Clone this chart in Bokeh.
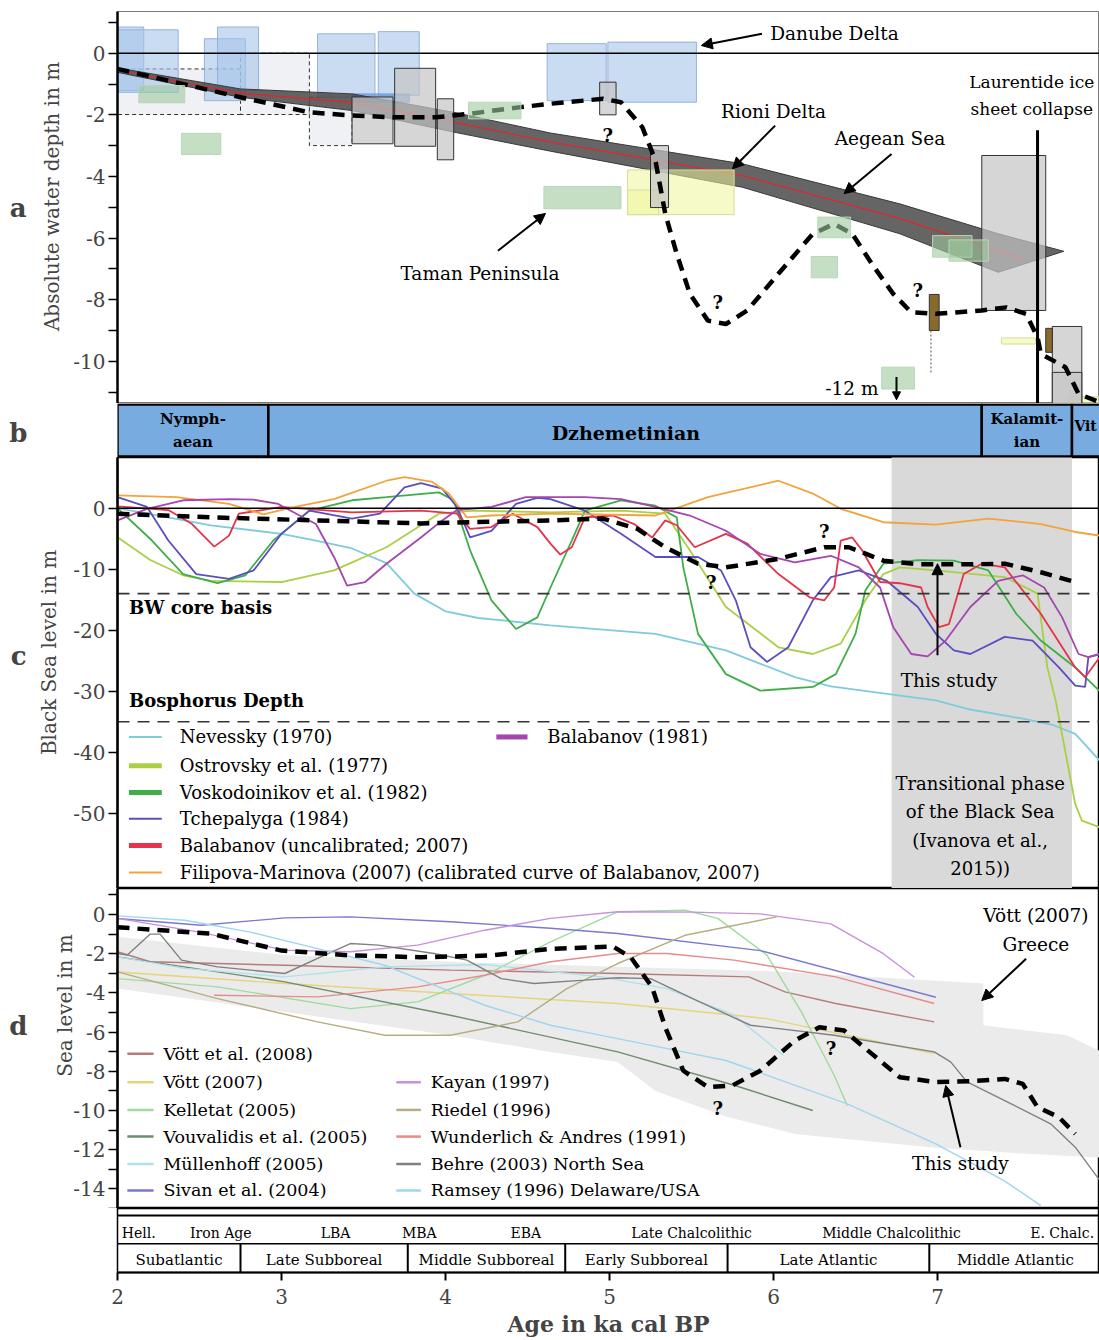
from bokeh.plotting import figure
from bokeh.layouts import column
from bokeh.models import Range1d, Label, Arrow, NormalHead, FixedTicker, LinearAxis
from bokeh.embed import file_html
from bokeh.resources import INLINE
from bokeh.core.properties import value

SERIF = "DejaVu Serif"
W = 1099
LEFT = 117
X0 = 2.0
X1 = 2.0 + (W - LEFT) / 164.0

# ---------------- panel a: absolute water depth (m) ----------------
study_a_age = [2.0, 2.75, 3.17, 3.43, 3.68, 3.94, 4.14, 4.46, 4.64, 4.96, 5.07, 5.20, 5.28, 5.34,
               5.41, 5.49, 5.60, 5.71, 5.84, 6.03, 6.24, 6.37, 6.48, 6.60, 6.73, 6.84, 6.99, 7.27,
               7.42, 7.54, 7.61, 7.63, 7.78, 7.86, 7.99]
study_a_depth = [-0.51, -1.43, -1.92, -2.02, -2.08, -2.08, -1.97, -1.75, -1.64, -1.48, -1.59, -2.40,
                 -3.48, -5.21, -6.51, -7.81, -8.68, -8.79, -8.35, -7.16, -5.86, -5.54, -5.86, -6.84,
                 -7.81, -8.41, -8.46, -8.35, -8.25, -8.46, -9.22, -9.76, -10.19, -11.06, -11.33]

band_top_age = [2.0, 2.75, 3.43, 4.05, 4.64, 5.81, 6.77, 7.37, 7.77]
band_top_depth = [-0.48, -1.16, -1.32, -1.92, -2.59, -3.59, -4.89, -5.86, -6.43]
band_bot_age = [2.0, 2.75, 3.43, 4.05, 4.64, 5.81, 6.77, 7.37]
band_bot_depth = [-0.62, -1.43, -1.86, -2.56, -3.18, -4.35, -5.86, -7.11]
aegean_age = [2.0, 2.75, 3.43, 4.05, 4.64, 5.81, 6.77, 7.52]
aegean_depth = [-0.55, -1.30, -1.60, -2.24, -2.88, -3.97, -5.37, -6.68]

danube_l = [2.0, 2.0, 2.53, 2.61, 3.22, 3.59, 4.62, 4.99]
danube_r = [2.16, 2.37, 2.78, 2.86, 3.57, 3.84, 4.98, 5.53]
danube_t = [0.85, 0.76, 0.47, 0.85, 0.63, 0.70, 0.31, 0.36]
danube_b = [-1.21, -1.27, -1.54, -1.21, -1.43, -1.37, -1.54, -1.59]
danube2_l, danube2_r, danube2_t, danube2_b = [3.43], [3.78], [-1.32], [-1.59]

pale_l = [2.0, 2.75, 3.17]
pale_r = [2.75, 3.17, 3.43]
pale_t = [-0.51, 0.0, -1.43]
pale_b = [-1.99, -1.99, -3.0]

grey_l = [3.43, 3.69, 3.95, 4.94, 5.25, 7.27, 7.70, 7.70]
grey_r = [3.68, 3.94, 4.05, 5.04, 5.36, 7.66, 7.88, 7.88]
grey_t = [-1.42, -0.49, -1.48, -0.94, -3.0, -3.32, -8.87, -10.36]
grey_b = [-2.94, -3.02, -3.46, -2.0, -5.01, -8.35, -11.4, -11.4]

green_l = [2.13, 2.39, 4.14, 4.60, 6.27, 6.23, 6.97, 7.07, 6.66]
green_r = [2.41, 2.63, 4.46, 5.07, 6.47, 6.39, 7.21, 7.31, 6.86]
green_t = [-1.05, -2.60, -1.59, -4.33, -5.32, -6.60, -5.92, -6.06, -10.19]
green_b = [-1.61, -3.29, -2.13, -5.05, -5.99, -7.29, -6.62, -6.75, -10.90]

yellow_l = [5.11, 5.11, 7.39, 7.80]
yellow_r = [5.76, 5.30, 7.60, 8.10]
yellow_t = [-3.79, -4.44, -9.24, -11.15]
yellow_b = [-5.24, -5.24, -9.44, -11.45]

brown_l = [6.95, 7.66]
brown_r = [7.01, 7.70]
brown_t = [-7.83, -8.93]
brown_b = [-9.0, -9.71]

laurentide_age = 7.61
question_a_age = [4.99, 5.66, 6.88]
question_a_depth = [-2.67, -8.08, -7.70]
depth_ticks = [-10, -8, -6, -4, -2, 0]
depth_minor = [-11, -9, -7, -5, -3, -1, 1]

# ---------------- panel b: Black Sea stages ----------------
stage_start = [2.0, 2.92, 7.27, 7.82]
stage_end = [2.92, 7.27, 7.82, 8.30]

# ---------------- panel c: Black Sea level (m) ----------------
nevessky_age = [2.0, 2.25, 2.57, 3.0, 3.21, 3.43, 3.64, 3.81, 4.0, 4.2, 4.64, 5.28, 5.71, 6.13,
                6.35, 6.99, 7.20, 7.52, 7.70, 7.84, 7.99]
nevessky_lvl = [0.0, -1.2, -2.8, -4.2, -5.3, -6.6, -9.0, -14.0, -16.9, -18.0, -19.2, -20.6, -23.3,
                -27.7, -29.2, -31.5, -33.0, -34.5, -35.5, -37.0, -41.4]
ostrovsky_age = [2.0, 2.2, 2.4, 2.57, 3.0, 3.32, 3.64, 3.96, 4.17, 4.64, 5.07, 5.34, 5.49, 5.71,
                 6.03, 6.24, 6.41, 6.56, 6.67, 6.77, 6.99, 7.41, 7.61, 7.67, 7.72, 7.74, 7.84, 7.88, 7.99]
ostrovsky_lvl = [-4.75, -8.5, -11.0, -11.9, -12.1, -10.2, -6.4, -0.9, -0.4, -0.7, -0.4, -0.9, -6.9,
                 -16.2, -22.8, -23.9, -22.2, -15.1, -10.8, -9.7, -10.2, -11.3, -14.0, -26.1, -31.5,
                 -34.3, -48.5, -51.2, -52.3]
vosko_age = [2.0, 2.21, 2.40, 2.61, 2.78, 2.95, 3.17, 3.43, 3.64, 3.96, 4.05, 4.15, 4.28, 4.43,
             4.56, 4.64, 4.77, 4.85, 5.07, 5.28, 5.41, 5.45, 5.54, 5.71, 5.92, 6.24, 6.38, 6.50,
             6.56, 6.67, 6.88, 7.10, 7.31, 7.48, 7.63, 7.84, 7.99]
vosko_lvl = [0.0, -5.3, -10.8, -12.3, -11.0, -5.3, -0.4, 1.3, 1.8, 2.6, 1.3, -6.9, -15.1, -19.8,
             -17.9, -13.0, -5.3, -0.4, 1.3, 0.4, -1.5, -9.7, -20.6, -27.2, -29.9, -29.3, -27.2,
             -20.6, -13.5, -9.1, -8.5, -8.6, -10.2, -17.3, -21.7, -26.1, -30.0]
tchep_age = [2.0, 2.18, 2.31, 2.48, 2.68, 2.83, 3.0, 3.17, 3.43, 3.60, 3.75, 3.85, 3.98, 4.07,
             4.15, 4.28, 4.43, 4.56, 4.64, 4.85, 5.07, 5.28, 5.54, 5.68, 5.77, 5.86, 5.96, 6.09,
             6.24, 6.35, 6.52, 6.69, 6.88, 6.99, 7.10, 7.20, 7.41, 7.58, 7.74, 7.84, 7.90, 7.92, 7.99]
tchep_lvl = [1.8, 0.2, -5.3, -10.8, -11.6, -10.2, -4.2, -0.4, -1.7, -0.9, 3.4, 4.1, 3.2, 0.2,
             -4.8, -3.7, 0.7, 1.7, 1.5, -0.4, -4.2, -8.0, -8.0, -10.2, -15.1, -22.8, -25.2, -22.8,
             -15.1, -11.3, -10.2, -11.9, -16.2, -20.6, -23.3, -23.9, -21.1, -21.7, -26.1, -29.1,
             -29.3, -24.4, -23.9]
bal07_age = [2.0, 2.31, 2.45, 2.59, 2.68, 2.74, 3.0, 3.43, 3.85, 4.07, 4.15, 4.28, 4.41, 4.56,
             4.64, 4.70, 4.77, 4.85, 5.02, 5.15, 5.26, 5.34, 5.41, 5.52, 5.71, 5.84, 6.03, 6.22,
             6.31, 6.37, 6.41, 6.48, 6.54, 6.65, 6.77, 6.90, 6.94, 7.01, 7.07, 7.16, 7.27, 7.41,
             7.63, 7.84, 7.90, 7.99]
bal07_lvl = [0.3, -0.3, -2.5, -6.3, -4.5, -0.9, 0.2, -0.7, -0.4, -0.9, -3.4, -3.1, -0.9, -3.1,
             -5.8, -7.6, -6.4, -1.5, -1.2, -2.6, -4.8, -2.0, -2.8, -6.4, -4.2, -5.8, -10.8, -14.6,
             -15.1, -13.0, -5.3, -4.8, -6.9, -12.1, -12.3, -13.0, -16.2, -19.5, -19.0, -10.8,
             -9.1, -9.7, -17.3, -26.1, -27.7, -24.4]
filipova_age = [2.0, 2.36, 2.68, 2.89, 3.06, 3.32, 3.64, 3.75, 3.92, 4.02, 4.13, 4.28, 4.64, 5.28,
                5.60, 6.03, 6.24, 6.41, 6.67, 6.99, 7.31, 7.63, 7.84, 7.99]
filipova_lvl = [2.1, 1.8, 0.7, -1.0, 0.1, 1.5, 4.5, 5.1, 4.3, 2.4, -1.5, -1.2, -0.9, -1.2, 1.8,
                4.5, 2.4, -0.1, -2.3, -2.7, -1.7, -2.6, -3.9, -4.5]
bal81_age = [2.0, 2.18, 2.40, 2.68, 2.83, 2.98, 3.11, 3.21, 3.32, 3.40, 3.51, 3.64, 3.85, 3.98,
             4.07, 4.28, 4.49, 4.64, 4.85, 5.07, 5.28, 5.49, 5.71, 5.92, 6.13, 6.35, 6.52, 6.65,
             6.73, 6.84, 6.94, 7.05, 7.20, 7.37, 7.52, 7.65, 7.76, 7.86, 7.92, 7.99]
bal81_lvl = [-2.0, -0.1, 1.3, 1.5, 1.4, 0.7, -1.2, -2.6, -8.0, -12.7, -12.1, -9.1, -4.8, -2.0,
             -0.3, 0.2, 1.8, 1.8, 1.8, 1.5, 0.2, -1.2, -3.7, -7.5, -8.9, -7.8, -9.7, -13.0, -19.5,
             -23.9, -24.3, -21.7, -16.2, -11.9, -11.0, -13.0, -17.9, -23.9, -24.4, -23.9]
study_c_age = [2.0, 2.57, 3.21, 3.85, 4.64, 4.96, 5.17, 5.34, 5.54, 5.71, 6.03, 6.31, 6.46, 6.67,
               6.88, 7.20, 7.41, 7.63, 7.84]
study_c_lvl = [-0.9, -1.5, -2.0, -2.5, -2.0, -1.7, -3.4, -6.4, -9.1, -9.7, -8.3, -6.4, -6.4, -8.6,
               -9.2, -9.2, -9.1, -10.5, -12.1]
bw_core_level = -14.0
bosphorus_level = -35.0
transition_start, transition_end = 6.72, 7.82
question_c_age = [6.31, 5.62]
question_c_lvl = [-3.9, -12.1]
level_ticks = [-50, -40, -30, -20, -10, 0]

c_names = ["Nevessky (1970)", "Ostrovsky et al. (1977)", "Voskodoinikov et al. (1982)",
           "Tchepalyga (1984)", "Balabanov (uncalibrated; 2007)",
           "Filipova-Marinova (2007) (calibrated curve of Balabanov, 2007)", "Balabanov (1981)"]
c_colors = ["#7fcbdc", "#a9d045", "#3fae49", "#5a4fc0", "#e5334b", "#f2a33a", "#a545b0"]
c_key_widths = [2, 5, 5, 2, 5, 2, 5]
c_ages = [nevessky_age, ostrovsky_age, vosko_age, tchep_age, bal07_age, filipova_age, bal81_age]
c_lvls = [nevessky_lvl, ostrovsky_lvl, vosko_lvl, tchep_lvl, bal07_lvl, filipova_lvl, bal81_lvl]

# ---------------- panel d: sea level (m), regional curves ----------------
vott08_age = [2.0, 2.2, 3.02, 4.03, 5.05, 5.85, 6.07, 6.38, 6.98]
vott08_lvl = [-1.9, -2.41, -2.59, -2.84, -3.01, -3.18, -3.95, -4.54, -5.48]
vott07_age = [2.0, 3.02, 4.03, 5.05, 5.96, 6.98]
vott07_lvl = [-2.93, -3.52, -4.03, -4.54, -5.31, -7.09]
kelletat_age = [2.0, 2.61, 3.42, 3.83, 4.24, 4.64, 5.05, 5.46, 5.66, 5.96, 6.17, 6.37, 6.45]
kelletat_lvl = [-3.27, -3.69, -4.8, -4.46, -3.1, -1.4, 0.14, 0.22, -0.2, -2.07, -4.97, -8.2, -9.75]
vouv_age = [2.0, 3.02, 4.03, 5.05, 5.76, 6.24]
vouv_lvl = [-2.16, -3.44, -5.14, -7.01, -8.71, -10.0]
mullen_age = [2.0, 2.41, 3.02, 3.63, 4.24, 4.95, 5.35, 5.76, 6.06]
mullen_lvl = [-2.16, -2.75, -3.18, -2.67, -2.55, -3.18, -3.78, -5.14, -7.18]
sivan_age = [2.0, 2.51, 3.02, 3.42, 4.03, 4.64, 5.05, 5.92, 6.99]
sivan_lvl = [-0.2, -0.55, -0.17, -0.12, -0.37, -0.7, -0.97, -1.84, -4.22]
kayan_age = [2.0, 2.5, 3.02, 3.42, 3.83, 4.24, 4.64, 5.05, 5.5, 5.92, 6.35, 6.67, 6.86]
kayan_lvl = [-0.2, -0.9, -1.82, -1.9, -1.56, -0.8, -0.2, 0.14, 0.12, 0.03, -0.48, -2.0, -3.2]
riedel_age = [2.0, 2.61, 3.22, 3.63, 4.03, 4.44, 4.74, 5.05, 5.46, 6.02]
riedel_lvl = [-2.93, -4.29, -5.48, -6.16, -6.16, -5.48, -3.78, -2.5, -1.06, -0.12]
wunder_age = [2.59, 3.22, 3.83, 4.24, 4.64, 5.05, 5.35, 5.76, 6.38, 6.98]
wunder_lvl = [-4.12, -4.2, -3.69, -3.1, -2.41, -1.99, -1.99, -2.33, -3.18, -4.54]
behre_age = [2.0, 2.06, 2.2, 2.26, 2.39, 2.61, 3.02, 3.26, 3.42, 3.59, 3.93, 4.13, 4.34, 4.54,
             4.85, 5.05, 5.25, 5.55, 5.86, 6.37, 6.98, 7.08, 7.18, 7.41, 7.69, 7.84, 7.99]
behre_lvl = [-1.99, -2.07, -1.0, -1.0, -2.33, -2.67, -3.01, -2.08, -1.48, -1.56, -1.99, -2.33,
             -3.27, -3.52, -3.35, -3.23, -3.27, -4.46, -5.65, -6.16, -7.01, -7.52, -8.54, -9.49,
             -10.68, -11.87, -13.57]
ramsey_age = [2.0, 2.41, 2.81, 3.22, 3.63, 3.93, 4.24, 4.64, 5.05, 5.71, 6.45, 6.99, 7.41, 7.63]
ramsey_lvl = [-0.07, -0.29, -0.9, -1.74, -2.59, -3.6, -4.63, -5.65, -6.33, -7.45, -9.66, -11.7,
              -13.6, -14.85]
study_d_age = [2.0, 2.57, 3.0, 3.43, 3.85, 4.28, 4.64, 5.02, 5.13, 5.26, 5.34, 5.45, 5.60, 5.75,
               5.92, 6.13, 6.28, 6.43, 6.60, 6.77, 6.99, 7.20, 7.41, 7.52, 7.61, 7.74, 7.84]
study_d_lvl = [-0.65, -0.98, -1.84, -2.09, -2.18, -2.09, -1.75, -1.63, -2.18, -3.71, -5.75, -7.97,
               -8.81, -8.72, -7.97, -6.43, -5.75, -5.92, -7.11, -8.30, -8.55, -8.50, -8.39, -8.64,
               -9.83, -10.34, -11.19]
greece_upper_age = [2.0, 3.02, 4.03, 5.05, 6.0, 7.28, 7.28, 7.79, 8.0]
greece_upper_lvl = [-1.14, -2.07, -2.41, -2.67, -2.9, -3.52, -5.65, -6.16, -7.0]
greece_lower_age = [2.0, 3.02, 4.03, 4.64, 5.05, 5.28, 5.71, 6.13, 6.99, 7.52, 8.0]
greece_lower_lvl = [-3.78, -4.97, -6.16, -7.01, -7.52, -9.0, -10.3, -11.2, -11.9, -12.2, -12.4]
question_d_age = [6.35, 5.66]
question_d_lvl = [-6.86, -9.91]
sea_ticks = [-14, -12, -10, -8, -6, -4, -2, 0]
sea_minor = [-15, -13, -11, -9, -7, -5, -3, -1, 1]

d_names = ["Vött et al. (2008)", "Vött (2007)", "Kelletat (2005)", "Vouvalidis et al. (2005)",
           "Müllenhoff (2005)", "Sivan et al. (2004)", "Kayan (1997)", "Riedel (1996)",
           "Wunderlich & Andres (1991)", "Behre (2003) North Sea", "Ramsey (1996) Delaware/USA"]
d_colors = ["#b67c7c", "#e6d47c", "#9edc9e", "#6e8c6e", "#aee0ee", "#7b78d0", "#c890dc",
            "#b5ad84", "#e88a8a", "#808080", "#9fd6ef"]
d_ages = [vott08_age, vott07_age, kelletat_age, vouv_age, mullen_age, sivan_age, kayan_age,
          riedel_age, wunder_age, behre_age, ramsey_age]
d_lvls = [vott08_lvl, vott07_lvl, kelletat_lvl, vouv_lvl, mullen_lvl, sivan_lvl, kayan_lvl,
          riedel_lvl, wunder_lvl, behre_lvl, ramsey_lvl]

# ---------------- bottom strip: cultural and climatic periods ----------------
arch_names = ["Hell.", "Iron Age", "LBA", "MBA", "EBA", "Late Chalcolithic",
              "Middle Chalcolithic", "E. Chalc."]
arch_mid = [2.13, 2.63, 3.33, 3.84, 4.49, 5.50, 6.72, 7.76]
clim_names = ["Subatlantic", "Late Subboreal", "Middle Subboreal", "Early Subboreal",
              "Late Atlantic", "Middle Atlantic"]
clim_bounds = [2.0, 2.75, 3.77, 4.73, 5.72, 6.95, 8.0]
age_ticks = [2, 3, 4, 5, 6, 7]

XR = Range1d(X0, X1)


def panel(height, y0, y1, rows, top=0, bottom=0, yaxis=True, xaxis=False):
    p = figure(width=W, height=height, x_range=XR, y_range=Range1d(y0, y1),
               output_backend="svg", toolbar_location=None,
               x_axis_location="below" if xaxis else None,
               y_axis_location="left" if yaxis else None,
               min_border_left=LEFT, min_border_right=0,
               min_border_top=top, min_border_bottom=bottom)
    p.grid.visible = False
    p.outline_line_color = "black"
    p.outline_line_width = 1.5
    p.background_fill_color = "white"
    p.border_fill_color = "white"
    # page-row scale used to place the side captions of each panel
    p.extra_y_ranges = {"rows": Range1d(start=rows[1], end=rows[0])}
    return p


def style_y(p, ticks, minor):
    ax = p.yaxis[0]
    ax.ticker = FixedTicker(ticks=ticks, minor_ticks=minor)
    ax.major_label_overrides = {t: str(t) for t in ticks}
    ax.axis_line_width = 2.5
    ax.major_tick_out = 9
    ax.major_tick_in = 0
    ax.minor_tick_out = 9
    ax.minor_tick_in = 0
    ax.major_tick_line_width = 1.5
    ax.minor_tick_line_width = 1.5
    ax.major_label_text_font = SERIF
    ax.major_label_text_font_size = "20px"
    ax.major_label_standoff = 3


def side_caption(p, row, text, standoff, size, bold=False, orientation="horizontal"):
    ax = LinearAxis(y_range_name="rows", ticker=FixedTicker(ticks=[row], minor_ticks=[]),
                    major_label_overrides={row: text}, axis_line_color=None,
                    major_tick_line_color=None, minor_tick_line_color=None,
                    major_tick_out=0, major_tick_in=0, minor_tick_out=0, minor_tick_in=0,
                    major_label_standoff=standoff, major_label_text_font=SERIF,
                    major_label_text_font_size=size,
                    major_label_text_font_style="bold" if bold else "normal",
                    major_label_orientation=orientation)
    p.add_layout(ax, "left")


def lab(p, x, y, text, size="18.5px", bold=False, align="left", baseline="middle"):
    p.add_layout(Label(x=x, y=y, text=text, text_font=SERIF, text_font_size=size,
                       text_font_style="bold" if bold else "normal", text_align=align,
                       text_baseline=baseline, text_color="black"))


def arrow(p, xs, ys, xe, ye, size=11):
    p.add_layout(Arrow(end=NormalHead(size=size, fill_color="black", line_color="black"),
                       x_start=xs, y_start=ys, x_end=xe, y_end=ye,
                       line_color="black", line_width=2))


def texts(p, xs, ys, strs, size, bold=False, align="center"):
    p.text(x=xs, y=ys, text=strs, text_font=value(SERIF), text_font_size=value(size),
           text_font_style="bold" if bold else "normal", text_align=align,
           text_baseline="middle", text_color="black")


def hline(p, y, **kw):
    p.segment(x0=[X0], y0=[y], x1=[X1 + 1], y1=[y], **kw)


# ================= panel a =================
pa = panel(403, -11.37, 1.354, (11, 403), top=11)
style_y(pa, depth_ticks, depth_minor)
pa.outline_line_color = "#777777"
pa.outline_line_width = 1
side_caption(pa, 196, "Absolute water depth in m", 7, "20px", orientation="parallel")
side_caption(pa, 207, "a", 10, "26px", bold=True)

pa.quad(left=pale_l, right=pale_r, top=pale_t, bottom=pale_b, fill_color="#eef0f3",
        fill_alpha=0.9, line_color="#333333", line_width=1, line_dash="4 3")
pa.quad(left=danube_l, right=danube_r, top=danube_t, bottom=danube_b, fill_color="#a6c4ea",
        fill_alpha=0.6, line_color="#93b3dc", line_width=1)
pa.quad(left=danube2_l, right=danube2_r, top=danube2_t, bottom=danube2_b, fill_color="#6f9fe0",
        fill_alpha=0.8, line_color="#6f9fe0")
pa.patch(band_top_age + band_bot_age[::-1], band_top_depth + band_bot_depth[::-1],
         fill_color="#4a4a4a", fill_alpha=0.85, line_color="#3a3a3a", line_width=1)
pa.line(aegean_age, aegean_depth, line_color="#e0262c", line_width=1.3)
pa.quad(left=yellow_l, right=yellow_r, top=yellow_t, bottom=yellow_b, fill_color="#eef59a",
        fill_alpha=0.55, line_color="#d8dc9a", line_width=1)
pa.quad(left=grey_l, right=grey_r, top=grey_t, bottom=grey_b, fill_color="#c4c4c4",
        fill_alpha=0.7, line_color="#333333", line_width=1)
pa.quad(left=brown_l, right=brown_r, top=brown_t, bottom=brown_b, fill_color="#8a6a2c",
        line_color="#333333", line_width=1)
pa.segment(x0=[brown_l[0] + 0.01], y0=[brown_b[0]], x1=[brown_l[0] + 0.01], y1=[-10.4],
           line_color="#555555", line_width=1, line_dash="2 2")
pa.line(study_a_age, study_a_depth, line_color="black", line_width=4.5, line_dash="12 8")
pa.quad(left=green_l, right=green_r, top=green_t, bottom=green_b, fill_color="#9ec99e",
        fill_alpha=0.6, line_color="#b8d6b8", line_width=1)
pa.segment(x0=[laurentide_age], y0=[-2.5], x1=[laurentide_age], y1=[-11.4],
           line_color="black", line_width=3)
hline(pa, 0, line_color="black", line_width=1.5)
texts(pa, question_a_age, question_a_depth, ["?", "?", "?"], "18px", bold=True)

lab(pa, 5.98, 0.64, "Danube Delta")
arrow(pa, 5.93, 0.63, 5.56, 0.25)
lab(pa, 6.0, -1.89, "Rioni Delta", align="center")
arrow(pa, 6.01, -2.35, 5.75, -3.75)
lab(pa, 6.71, -2.77, "Aegean Sea", align="center")
arrow(pa, 6.72, -3.27, 6.43, -4.56)
lab(pa, 7.575, -0.95, "Laurentide ice", size="17px", align="center")
lab(pa, 7.575, -1.80, "sheet collapse", size="17px", align="center")
lab(pa, 4.21, -7.15, "Taman Peninsula", align="center")
arrow(pa, 4.32, -6.41, 4.61, -5.2)
lab(pa, 6.64, -10.89, "-12 m", align="right")
arrow(pa, 6.75, -10.51, 6.75, -11.25, size=8)

# ================= panel b =================
pb = panel(54, -0.02, 1.02, (403, 457), yaxis=False)
pb.outline_line_color = None
side_caption(pb, 432, "b", 90, "26px", bold=True)
pb.quad(left=stage_start, right=stage_end, top=1.0, bottom=0.0, fill_color="#78ace0",
        line_color="black", line_width=2.5)
texts(pb, [2.46, 2.46, 7.545, 7.545], [0.72, 0.28, 0.72, 0.28],
      ["Nymph-", "aean", "Kalamit-", "ian"], "15px", bold=True)
texts(pb, [5.10], [0.45], ["Dzhemetinian"], "19px", bold=True)
texts(pb, [7.835], [0.58], ["Vit"], "14px", bold=True, align="left")

# ================= panel c =================
pc = panel(431, -62.34, 8.31, (457, 888))
style_y(pc, level_ticks, [])
side_caption(pc, 652, "Black Sea level in m", 10, "20px", orientation="parallel")
side_caption(pc, 655, "c", 7, "26px", bold=True)
pc.quad(left=[transition_start], right=[transition_end], top=[20], bottom=[-80],
        fill_color="#d9d9d9", line_color=None)
for ages, lvls, col in zip(c_ages, c_lvls, c_colors):
    pc.line(ages, lvls, line_color=col, line_width=1.8)
pc.line(study_c_age, study_c_lvl, line_color="black", line_width=4.5, line_dash="12 8")
hline(pc, 0, line_color="black", line_width=1.5)
hline(pc, bw_core_level, line_color="#333333", line_width=1.6, line_dash="12 8")
hline(pc, bosphorus_level, line_color="#333333", line_width=1.6, line_dash="12 8")
texts(pc, question_c_age, question_c_lvl, ["?", "?"], "18px", bold=True)
texts(pc, [2.07, 2.07], [-16.3, -31.5], ["BW core basis", "Bosphorus Depth"], "18px",
      bold=True, align="left")

# legend of panel c
c_key_y = [-37.5, -42.2, -46.6, -50.9, -55.3, -59.7, -37.5]
c_key_x0 = [2.07] * 6 + [4.31]
c_key_x1 = [2.27] * 6 + [4.50]
c_text_x = [2.38] * 6 + [4.62]
pc.segment(x0=c_key_x0, y0=c_key_y, x1=c_key_x1, y1=c_key_y, line_color=c_colors,
           line_width=c_key_widths)
texts(pc, c_text_x, c_key_y, c_names, "18px", align="left")

lab(pc, 7.07, -28.3, "This study", align="center")
arrow(pc, 7.0, -24.1, 7.0, -9.1)
for yy, tt in zip([-45.1, -49.7, -54.5, -59.1],
                  ["Transitional phase", "of the Black Sea", "(Ivanova et al.,", "2015))"]):
    lab(pc, 7.26, yy, tt, size="18px", align="center")

# ================= panel d =================
pd_ = panel(320, -15.0, 1.327, (888, 1208))
style_y(pd_, sea_ticks, sea_minor)
side_caption(pd_, 1005, "Sea level in m", -6, "20px", orientation="parallel")
side_caption(pd_, 1025, "d", 22, "26px", bold=True)
pd_.patch(greece_upper_age + greece_lower_age[::-1], greece_upper_lvl + greece_lower_lvl[::-1],
          fill_color="#ebebeb", line_color=None)
for ages, lvls, col in zip(d_ages, d_lvls, d_colors):
    pd_.line(ages, lvls, line_color=col, line_width=1.4)
pd_.line(study_d_age, study_d_lvl, line_color="black", line_width=4.5, line_dash="12 8")
texts(pd_, question_d_age, question_d_lvl, ["?", "?"], "18px", bold=True)

d_key_y = [-7.1, -8.56, -9.97, -11.33, -12.73, -14.08, -8.56, -9.97, -11.33, -12.73, -14.08]
d_key_x0 = [2.06] * 6 + [3.70] * 5
d_key_x1 = [2.22] * 6 + [3.85] * 5
d_text_x = [2.28] * 6 + [3.91] * 5
pd_.segment(x0=d_key_x0, y0=d_key_y, x1=d_key_x1, y1=d_key_y, line_color=d_colors,
            line_width=2.5)
texts(pd_, d_text_x, d_key_y, d_names, "17.5px", align="left")

lab(pd_, 7.60, -0.05, "Vött (2007)", align="center")
lab(pd_, 7.60, -1.53, "Greece", align="center")
arrow(pd_, 7.54, -2.26, 7.27, -4.39)
lab(pd_, 7.14, -12.7, "This study", align="center")
arrow(pd_, 7.14, -11.87, 7.05, -8.72)

# ================= period strip and age axis =================
pe = panel(132, 0, 1, (1208, 1272), bottom=68, yaxis=False, xaxis=True)
xa = pe.xaxis[0]
xa.ticker = FixedTicker(ticks=age_ticks, minor_ticks=[])
xa.axis_line_width = 2
xa.major_tick_out = 8
xa.major_tick_in = 0
xa.major_tick_line_width = 2
xa.major_label_text_font = SERIF
xa.major_label_text_font_size = "20px"
xa.major_label_standoff = 8
xa.axis_label = "Age in ka cal BP"
xa.axis_label_text_font = SERIF
xa.axis_label_text_font_size = "22px"
xa.axis_label_text_font_style = "bold"
xa.axis_label_standoff = 4
hline(pe, 0.89, line_color="black", line_width=2)
hline(pe, 0.448, line_color="black", line_width=1.5)
pe.segment(x0=clim_bounds[1:-1], y0=0, x1=clim_bounds[1:-1], y1=0.448, line_color="black",
           line_width=2)
texts(pe, arch_mid, [0.61] * len(arch_mid), arch_names, "14px")
clim_mid = [(a + b) / 2 for a, b in zip(clim_bounds[:-1], clim_bounds[1:])]
texts(pe, clim_mid, [0.2] * len(clim_mid), clim_names, "15px")

layout = column(pa, pb, pc, pd_, pe, spacing=0)
open("out.html", "w").write(file_html(layout, INLINE))
